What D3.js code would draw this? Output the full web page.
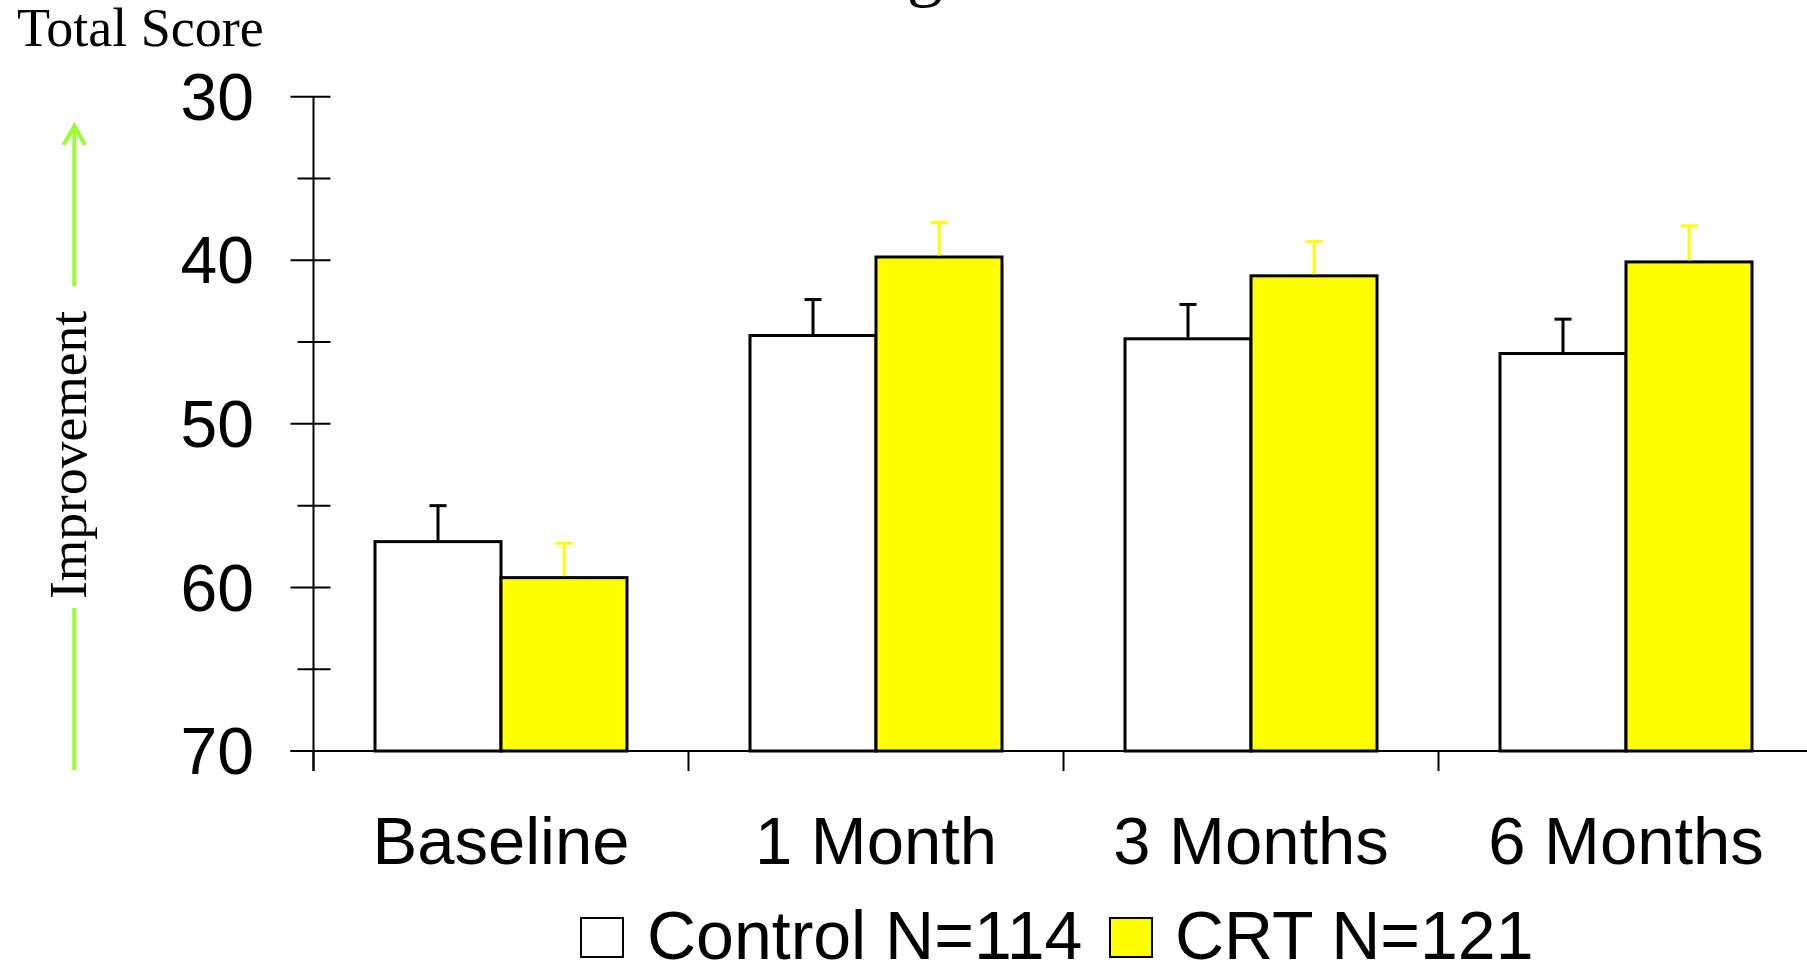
<!DOCTYPE html>
<html>
<head>
<meta charset="utf-8">
<script src="https://cdn.jsdelivr.net/npm/d3@7"></script>
<style>
  html, body { margin: 0; padding: 0; background: #fff; overflow: hidden; }
  svg { display: block; }
</style>
</head>
<body>
<svg id="chart" width="1807" height="963"></svg>
<script>
// ---- Data ----
const categories = ["Baseline", "1 Month", "3 Months", "6 Months"];
const controlValues = [57.2, 44.6, 44.8, 45.7];
const controlErrors = [2.2, 2.2, 2.1, 2.1];
const crtValues = [59.4, 39.8, 40.95, 40.1];
const crtErrors = [2.1, 2.1, 2.1, 2.2];
const yTickValues = [30, 40, 50, 60, 70];
const yMinorTicks = [35, 45, 55, 65];
const seriesNames = ["Control N=114", "CRT N=121"];
const seriesColors = ["#FFFFFF", "#FFFF00"];
const errorColors = ["#000000", "#FFFF00"];
const titleText = "Minnesota Living with Heart Failure";

// ---- Layout ----
const svg = d3.select("#chart");
const axisX = 313.5;
const y = d3.scaleLinear().domain([30, 70]).range([96.7, 751]);
const x = d3.scaleBand().domain(categories).range([axisX, 1813.5]).paddingInner(0).paddingOuter(0);
const barW = 126;
const series = [
  { name: seriesNames[0], values: controlValues, errors: controlErrors, fill: seriesColors[0], err: errorColors[0], offset: -1 },
  { name: seriesNames[1], values: crtValues, errors: crtErrors, fill: seriesColors[1], err: errorColors[1], offset: 0 }
];

// Title (mostly cut off above the canvas, only the descender shows)
svg.append("text")
  .attr("x", 429).attr("y", -7)
  .attr("font-family", "'Liberation Serif', 'Times New Roman', serif")
  .attr("font-size", 72)
  .attr("fill", "#000")
  .text(titleText);

// Bars
series.forEach(s => {
  const g = svg.append("g");
  g.selectAll("rect").data(categories).enter().append("rect")
    .attr("x", (c) => x(c) + x.bandwidth() / 2 + s.offset * barW)
    .attr("y", (c, i) => y(s.values[i]))
    .attr("width", barW)
    .attr("height", (c, i) => y(70) - y(s.values[i]))
    .attr("fill", s.fill)
    .attr("stroke", "#000")
    .attr("stroke-width", 3);
  // error bars (upward, toward lower score)
  const eg = svg.append("g").attr("stroke", s.err).attr("stroke-width", 3);
  categories.forEach((c, i) => {
    const cx = x(c) + x.bandwidth() / 2 + s.offset * barW + barW / 2;
    const top = y(s.values[i] - s.errors[i]);
    eg.append("line").attr("x1", cx).attr("x2", cx).attr("y1", y(s.values[i]) - 1.5).attr("y2", top);
    eg.append("line").attr("x1", cx - 8.5).attr("x2", cx + 8.5).attr("y1", top).attr("y2", top);
  });
});

// Y axis
const yAxis = svg.append("g").attr("stroke", "#000").attr("stroke-width", 2);
yAxis.append("line").attr("x1", axisX).attr("x2", axisX).attr("y1", y(30)).attr("y2", 771);
yAxis.selectAll("line.major").data(yTickValues).enter().append("line")
  .attr("class", "major")
  .attr("x1", axisX - 23).attr("x2", axisX + 17)
  .attr("y1", d => y(d)).attr("y2", d => y(d));
yAxis.selectAll("line.minor").data(yMinorTicks).enter().append("line")
  .attr("class", "minor")
  .attr("x1", axisX - 16).attr("x2", axisX + 17)
  .attr("y1", d => y(d)).attr("y2", d => y(d));
svg.append("g").selectAll("text").data(yTickValues).enter().append("text")
  .attr("x", 254).attr("y", d => y(d)).attr("dy", "0.35em")
  .attr("text-anchor", "end")
  .attr("font-family", "'Liberation Sans', Arial, sans-serif")
  .attr("font-size", 66)
  .attr("fill", "#000")
  .text(d => d);

// X axis
const xAxis = svg.append("g").attr("stroke", "#000").attr("stroke-width", 2);
xAxis.append("line").attr("x1", axisX - 23).attr("x2", 1807).attr("y1", y(70)).attr("y2", y(70));
xAxis.selectAll("line.tick").data(categories).enter().append("line")
  .attr("class", "tick")
  .attr("x1", d => x(d)).attr("x2", d => x(d))
  .attr("y1", y(70)).attr("y2", 771);
svg.append("g").selectAll("text").data(categories).enter().append("text")
  .attr("x", d => x(d) + x.bandwidth() / 2)
  .attr("y", 864)
  .attr("text-anchor", "middle")
  .attr("font-family", "'Liberation Sans', Arial, sans-serif")
  .attr("font-size", 67)
  .attr("fill", "#000")
  .text(d => d);

// Axis titles
svg.append("text")
  .attr("x", 17).attr("y", 46)
  .attr("font-family", "'Liberation Serif', 'Times New Roman', serif")
  .attr("font-size", 54)
  .attr("fill", "#000")
  .text("Total Score");
svg.append("text")
  .attr("transform", "translate(86,455) rotate(-90)")
  .attr("text-anchor", "middle")
  .attr("font-family", "'Liberation Serif', 'Times New Roman', serif")
  .attr("font-size", 53.5)
  .attr("fill", "#000")
  .text("Improvement");

// Improvement arrow (green)
const arrow = svg.append("g").attr("stroke", "#99FF33").attr("stroke-width", 4).attr("fill", "none");
arrow.append("line").attr("x1", 74.3).attr("x2", 74.3).attr("y1", 126).attr("y2", 286);
arrow.append("line").attr("x1", 74.3).attr("x2", 74.3).attr("y1", 608).attr("y2", 770);
arrow.append("polyline").attr("points", "63.5,145 74.3,126 85,145");

// Legend
const legend = [
  { box: 581, text: 647 },
  { box: 1110, text: 1175 }
];
series.forEach((s, i) => {
  svg.append("rect")
    .attr("x", legend[i].box).attr("y", 918)
    .attr("width", 42).attr("height", 39)
    .attr("fill", s.fill).attr("stroke", "#000").attr("stroke-width", 2);
  svg.append("text")
    .attr("x", legend[i].text).attr("y", 959)
    .attr("font-family", "'Liberation Sans', Arial, sans-serif")
    .attr("font-size", 68)
    .attr("fill", "#000")
    .text(s.name);
});
</script>
</body>
</html>
